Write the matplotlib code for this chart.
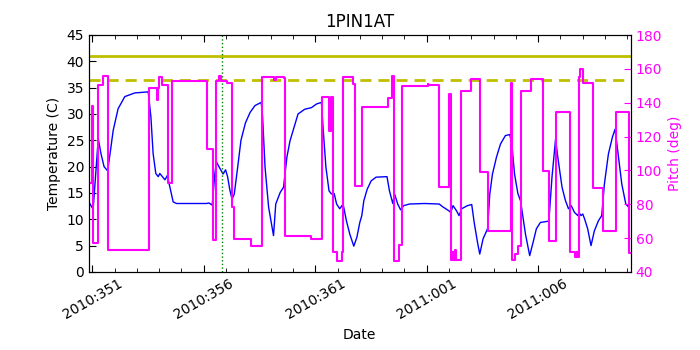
import matplotlib
matplotlib.use("Agg")
import matplotlib.pyplot as plt
from matplotlib.ticker import MultipleLocator, FuncFormatter

# days counted from 2010:000 (366 -> 2011:001)
temp_days = [350.86, 351.04, 351.27, 351.39, 351.53, 351.69, 351.80, 351.94, 352.16, 352.46, 352.91,
             353.51, 353.63, 353.73, 353.85, 353.96, 354.03, 354.26, 354.38, 354.43, 354.63,
             354.78, 356.13, 356.23, 356.38, 356.50, 356.57, 356.72, 356.87, 356.98, 357.07,
             357.17, 357.27, 357.37, 357.52, 357.67, 357.87, 358.08, 358.30, 358.58, 358.64,
             358.75, 358.91, 359.13, 359.23, 359.43, 359.58, 359.73, 359.87, 360.02, 360.23,
             360.53, 360.83, 361.06, 361.28, 361.35, 361.48, 361.62, 361.73, 361.85, 361.96,
             362.10, 362.25, 362.40, 362.55, 362.73, 362.87, 363.00, 363.09, 363.18, 363.33,
             363.51, 363.73, 364.22, 364.33, 364.48, 364.56, 364.70, 364.83, 364.97, 365.23,
             365.90, 366.56, 366.71, 367.00, 367.08, 367.18, 367.34, 367.45, 367.57, 367.83,
             368.02, 368.13, 368.28, 368.38, 368.53, 368.73, 368.83, 368.95, 369.13, 369.31,
             369.53, 369.73, 369.83, 369.94, 370.09, 370.21, 370.43, 370.62, 370.77, 370.92,
             371.10, 371.40, 371.48, 371.62, 371.78, 371.88, 372.07, 372.22, 372.36, 372.48,
             372.63, 372.78, 372.83, 372.92, 373.00, 373.08, 373.22, 373.37, 373.52, 373.70,
             373.85, 373.97, 374.15, 374.33, 374.45, 374.57, 374.75, 374.93, 375.06]
temp_vals = [13.2, 11.9, 25.3, 22.5, 20.0, 19.2, 22.5, 26.9, 31.0, 33.3, 34.0,
             34.2, 29.5, 22.5, 18.7, 18.1, 18.7, 17.5, 18.4, 17.1, 13.3,
             13.0, 13.0, 13.1, 12.7, 18.7, 20.9, 19.7, 18.6, 19.4, 18.1,
             15.6, 13.8, 14.8, 19.8, 25.0, 28.3, 30.3, 31.6, 32.2, 29.4,
             19.9, 12.3, 6.9, 12.9, 15.1, 16.1, 21.8, 24.9, 27.0, 30.0,
             30.9, 31.2, 31.9, 32.2, 27.5, 19.9, 15.4, 14.8, 14.9, 12.9,
             12.0, 12.9, 9.7, 7.2, 4.9, 6.6, 9.4, 10.7, 13.5, 15.7,
             17.3, 18.0, 18.1, 15.4, 13.0, 14.8, 12.9, 11.8, 12.6, 12.9,
             13.0, 12.9, 12.4, 11.6, 11.3, 12.6, 11.6, 10.7, 12.0, 12.6,
             12.8, 9.4, 5.6, 3.4, 6.3, 8.2, 14.8, 18.6, 21.8, 24.3,
             25.9, 26.1, 23.7, 18.6, 14.9, 13.5, 7.2, 3.1, 5.6, 8.2,
             9.4, 9.6, 9.7, 18.0, 25.2, 21.8, 16.1, 13.6, 12.0, 12.6,
             11.3, 10.7, 11.3, 10.7, 11.0, 10.1, 8.2, 5.0, 7.8, 9.7,
             10.7, 16.7, 22.4, 25.6, 27.1, 23.0, 16.7, 12.9, 12.3]

pitch_days = [350.85, 350.99, 351.02, 351.27, 351.47, 351.70, 353.55, 353.92, 353.95, 354.00,
              354.13, 354.39, 354.58, 356.15, 356.41, 356.57, 356.70, 356.77, 357.04, 357.26,
              357.38, 358.13, 358.61, 359.13, 359.23, 359.58, 359.65, 360.83, 361.31, 361.62,
              361.70, 361.78, 361.96, 362.18, 362.24, 362.70, 362.78, 363.08, 364.26, 364.43,
              364.52, 364.75, 364.90, 366.05, 366.08, 366.56, 366.98, 367.08, 367.16, 367.20,
              367.26, 367.32, 367.53, 367.97, 368.38, 368.73, 369.78, 369.83, 369.98, 370.08,
              370.21, 370.68, 371.22, 371.47, 371.82, 372.43, 372.66, 372.72, 372.76, 372.81,
              372.89, 373.03, 373.48, 373.93, 374.48, 375.09, 375.15]
pitch_vals = [92.6, 138.0, 57.1, 150.4, 156.0, 53.0, 148.7, 141.6, 148.7, 155.0,
              150.3, 92.6, 152.6, 112.6, 58.9, 153.0, 155.6, 153.0, 151.4, 78.2,
              59.5, 55.5, 155.4, 153.5, 155.4, 154.4, 61.5, 59.5, 143.2, 123.5,
              143.2, 51.6, 46.7, 51.6, 155.4, 151.0, 91.0, 137.6, 143.0, 156.0,
              46.7, 56.0, 150.0, 151.0, 150.5, 90.0, 145.0, 47.0, 52.0, 47.0,
              53.0, 47.0, 146.7, 154.0, 98.9, 64.4, 151.4, 47.0, 50.6, 55.5,
              147.0, 154.0, 99.5, 58.5, 134.3, 51.6, 49.0, 52.0, 49.0, 155.0,
              160.0, 151.4, 89.6, 64.0, 134.3, 51.0, 51.0]

temp_limit = 41.0
temp_caution = 36.4
marker_day = 356.81


def day_label(d, pos):
    d = int(round(d))
    if d > 365:
        return "2011:%03d" % (d - 365)
    return "2010:%03d" % d


fig = plt.figure(figsize=(7, 3.5), dpi=100)
ax = fig.add_axes([0.127, 0.223, 0.774, 0.677])

ax.plot(temp_days, temp_vals, color='blue', linewidth=1)
ax.axhline(temp_limit, color='#bfbf00', linewidth=2)
ax.axhline(temp_caution, color='#bfbf00', linewidth=2, linestyle='--', dashes=(4, 2.5))
ax.axvline(marker_day, color='green', linestyle=':', linewidth=1)

ax.set_xlim(350.85, 375.15)
ax.set_ylim(0, 45)
ax.yaxis.set_major_locator(MultipleLocator(5))
ax.xaxis.set_major_locator(MultipleLocator(5, offset=1))
ax.xaxis.set_minor_locator(MultipleLocator(1))
ax.xaxis.set_major_formatter(FuncFormatter(day_label))
ax.tick_params(direction='in', top=True, which='both', labelsize=10)
ax.tick_params(which='major', length=5)
ax.tick_params(which='minor', length=3)
ax.set_xlabel('Date')
ax.set_ylabel('Temperature (C)')
ax.set_title('1PIN1AT', fontsize=12)
for lbl in ax.get_xticklabels():
    lbl.set_rotation(30)
    lbl.set_ha('center')

ax2 = ax.twinx()
ax2.plot(pitch_days, pitch_vals, color='magenta', linewidth=1.5, drawstyle='steps-post')
ax2.set_ylim(40, 180)
ax2.yaxis.set_major_locator(MultipleLocator(20))
ax2.tick_params(direction='in', colors='magenta', labelsize=10, length=5)
ax2.spines['right'].set_color('black')
ax2.set_ylabel('Pitch (deg)', color='magenta')
ax2.set_xlim(350.85, 375.15)

plt.savefig('out.png', dpi=100)
